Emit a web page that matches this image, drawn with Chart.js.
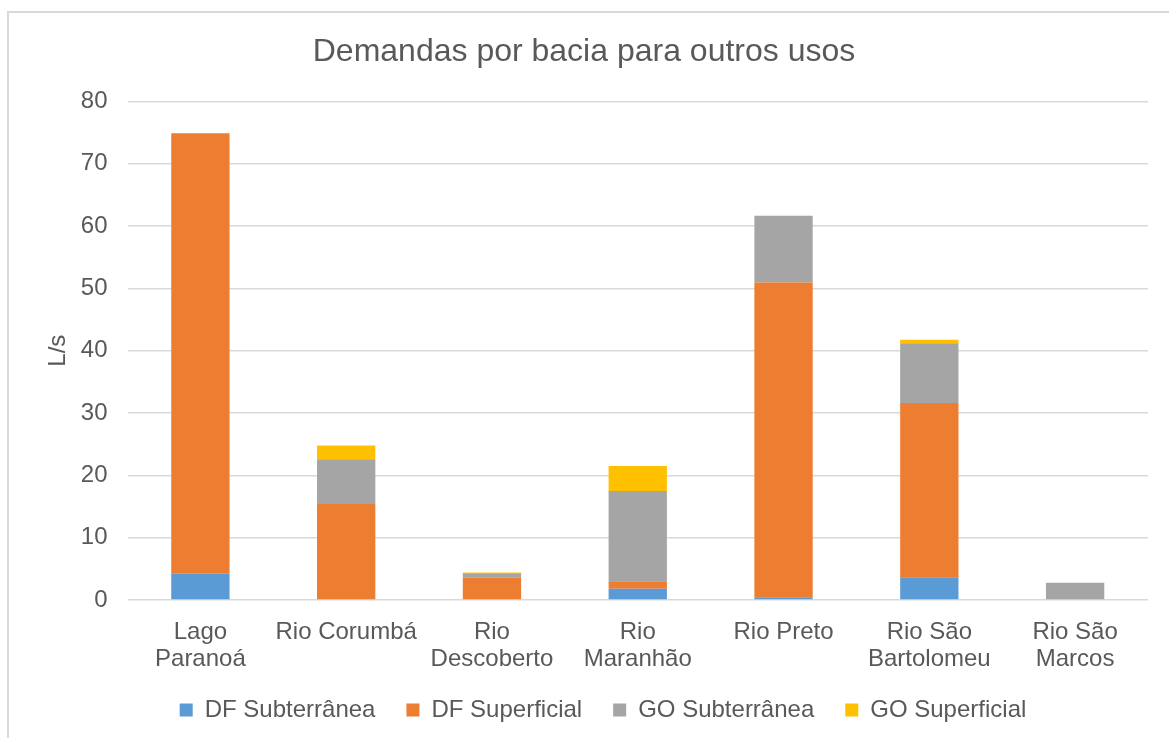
<!DOCTYPE html>
<html>
<head>
<meta charset="utf-8">
<script src="https://cdn.jsdelivr.net/npm/chart.js@4.4.1/dist/chart.umd.min.js"></script>
<style>
    html, body { margin: 0; padding: 0; background: #ffffff; overflow: hidden; }
    #frame { position: absolute; left: 7px; top: 11px; width: 1200px; height: 800px; border: 2px solid #d9d9d9; box-sizing: border-box; }
    #chart { position: absolute; left: 0; top: 0; }
</style>
</head>
<body>
<div id="frame"></div>
<canvas id="chart" width="1169" height="738"></canvas>
<script>
// Dados (L/s)
const categorias = [
    ['Lago', 'Paranoá'],
    'Rio Corumbá',
    ['Rio', 'Descoberto'],
    ['Rio', 'Maranhão'],
    'Rio Preto',
    ['Rio São', 'Bartolomeu'],
    ['Rio São', 'Marcos']
];
const dfSubterranea = [4.2, 0, 0, 1.8, 0.45, 3.65, 0];
const dfSuperficial = [70.7, 15.4, 3.55, 1.2, 50.5, 27.95, 0];
const goSubterranea = [0, 7.2, 0.75, 14.5, 10.7, 9.6, 2.75];
const goSuperficial = [0, 2.2, 0.1, 4.0, 0, 0.55, 0];

const fonte = '"Liberation Sans", Arial, sans-serif';
const corTexto = '#595959';

function serie(label, data, cor) {
    return {
        label: label,
        data: data,
        backgroundColor: cor,
        borderWidth: 0,
        barPercentage: 0.4,
        categoryPercentage: 1.0
    };
}

// Desloca a legenda um pouco para a direita (como no original)
const deslocaLegenda = {
    id: 'deslocaLegenda',
    afterLayout(chart) {
        if (chart.legend) {
            chart.legend.left += 19;
            chart.legend.right += 19;
        }
    }
};

const ctx = document.getElementById('chart').getContext('2d');
new Chart(ctx, {
    type: 'bar',
    data: {
        labels: categorias,
        datasets: [
            serie('DF Subterrânea', dfSubterranea, '#5B9BD5'),
            serie('DF Superficial', dfSuperficial, '#ED7D31'),
            serie('GO Subterrânea', goSubterranea, '#A5A5A5'),
            serie('GO Superficial', goSuperficial, '#FFC000')
        ]
    },
    plugins: [deslocaLegenda],
    options: {
        responsive: false,
        animation: false,
        devicePixelRatio: 1,
        layout: { padding: { left: 20, right: 21, top: 0, bottom: 6 } },
        plugins: {
            title: {
                display: true,
                text: 'Demandas por bacia para outros usos',
                color: corTexto,
                font: { family: fonte, size: 32, weight: 'normal', lineHeight: 1.2 },
                padding: { top: 33, bottom: 30 }
            },
            legend: {
                position: 'bottom',
                labels: {
                    color: corTexto,
                    font: { family: fonte, size: 24 },
                    boxWidth: 13,
                    boxHeight: 13,
                    padding: 31
                }
            },
            tooltip: { enabled: false }
        },
        scales: {
            x: {
                stacked: true,
                grid: { display: false, drawTicks: false },
                border: { display: false },
                ticks: {
                    color: corTexto,
                    font: { family: fonte, size: 24, lineHeight: 1.11 },
                    padding: 19,
                    maxRotation: 0,
                    autoSkip: false
                },
                afterFit: function (scale) { scale.height = 67; }
            },
            y: {
                stacked: true,
                min: 0,
                max: 80,
                grid: { color: '#d9d9d9', lineWidth: 1.5, drawTicks: false },
                border: { display: false },
                ticks: {
                    stepSize: 10,
                    color: corTexto,
                    font: { family: fonte, size: 24 },
                    padding: 20
                },
                title: {
                    display: true,
                    text: 'L/s',
                    color: corTexto,
                    font: { family: fonte, size: 24, lineHeight: 1.2 },
                    padding: { top: 24, bottom: 0 }
                },
                afterFit: function (scale) { scale.width = 107.5; }
            }
        }
    }
});
</script>
</body>
</html>
